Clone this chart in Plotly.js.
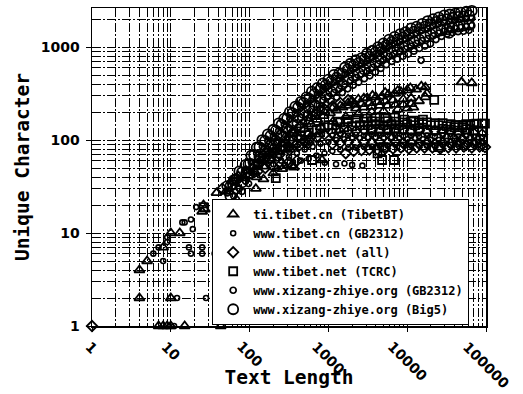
<!DOCTYPE html>
<html><head><meta charset="utf-8">
<script src="https://cdn.plot.ly/plotly-3.0.1.min.js"></script>
<style>html,body{margin:0;padding:0;background:#fff;}</style>
</head><body><div id="chart" style="width:523px;height:394px;"></div>
<script>
// ---- tick labels ----
const xTickVals = [1, 10, 100, 1000, 10000, 100000];
const xTickText = ['1', '10', '100', '1000', '10000', '100000'];
const yTickVals = [1, 10, 100, 1000];
const yTickText = ['1', '10', '100', '1000'];

// ---- ti.tibet.cn (TibetBT) : triangles ----
const tibetbtLowX = [4,4,5,8,10,13,10,43,7,8,9,10,15,43,26,27,25,38,50,55,60,85,123,120,365,830];
const tibetbtLowY = [2,4,5,7,10,10,2,2,1,1,1,1,1,1,20,18,17,27,28,28,36,39,40,30,51,61];
const tibetbtDiagX = [72,90,110,140,170,210,260,320,400];
const tibetbtDiagY = [41,47,52,60,70,80,92,104,118];
const tibetbtMergeX = [115,150,190,240,300,380,480,600,760,170,220,280,350,440,560,700,150,200,260,340];
const tibetbtMergeY = [46,52,63,74,79,89,100,110,115,79,93,107,126,145,158,178,38,44,49,53];
const tibetbtUpperX = [1995,2399,2818,3100,4000,4786,5754,6918,8318,10000,13000,17000,17000,49000,66000];
const tibetbtUpperY = [263,275,282,283,290,295,309,316,331,345,350,370,290,420,410];
const tibetbtMidX = [501,603,724,871,1047,1259,1514,1820,2188,2630,3311,4169,5248,6607,8913,11220];
const tibetbtMidY = [132,148,166,182,195,209,224,234,240,245,251,257,263,269,275,282];
const tibetbtLowBandX = [417,550,794,1148,1660,2399,3548,5012,7586,10000,12000];
const tibetbtLowBandY = [105,117,138,158,178,191,200,204,214,219,224];
const tibetbtFillX = [891,1122,1413,1778,2239,2818,3548,4467,5623,7079,8913,11220,14125,17783,3631,5248,7586,10965,15136];
const tibetbtFillY = [200,219,234,251,219,224,229,234,234,240,240,245,263,316,302,324,339,363,380];

// ---- www.tibet.cn (GB2312) : small circles ----
const tibetcnLowX = [6,7,8,9,9,12,28,14,15,19,18,17,25,18,25,36,21,38,11];
const tibetcnLowY = [6,7,5,8,9,2,2,13,13,11,14,7,7,6,6,6,19,21,1];
const tibetcnBandX1 = [200,251,316,398,501,631,794,1000,1259,1585,1995,2512,3162,3981,5012,6310,7943,10000,12589,15849,19953,25119,31623,39811,50119,63096,79433];
const tibetcnBandY1 = [55,60,66,72,79,85,91,95,100,102,105,105,107,107,105,107,105,102,105,102,100,100,98,98,95,95,95];
const tibetcnBandX2 = [224,282,355,447,562,708,891,1122,1413,1778,2239,2818,3548,4467,5623,7079,8913,11220,14125,17783,22387,28184,35481,44668,56234,70795,89125];
const tibetcnBandY2 = [50,54,58,60,63,68,72,76,79,81,83,85,85,87,87,89,89,87,89,87,87,89,89,91,91,93,93];
const tibetcnBandX3 = [1122,1413,1778,2239,2818,3548,4467,5623,7079,8913,11220,14125,17783,22387,28184,35481,44668,56234,70795,89125];
const tibetcnBandY3 = [112,115,112,114,112,115,112,114,112,110,112,110,112,110,112,110,109,110,107,105];
const tibetcnBottomX = [900,1250,1600,2000,2700];
const tibetcnBottomY = [57,55,56,54,53];

// ---- www.tibet.net (all) : diamonds ----
const tibetnetDiagX = [1,45,65,95,130,180,240,320,420,560,158,200,251,316,398,501,708,891,1122,1413,1778];
const tibetnetDiagY = [1,30,38,45,55,62,70,78,86,93,63,72,79,85,91,95,191,214,229,251,269];
const tibetnetFillX = [126,158,200,251,316,398];
const tibetnetFillY = [46,50,52,55,58,60];
const tibetnetBandX1 = [1660,2089,2630,3311,4169,5248,6607,8318,10471,13183,16596,20893,26303,33113,41687,52481,66069,83176,97000];
const tibetnetBandY1 = [72,76,78,79,79,81,81,83,81,83,83,83,81,83,83,85,83,85,84];
const tibetnetBandX2 = [562,708,891,1122,1413,1778,2239,2818,3548,4467,5623,7079,8913,11220,14125,17783,22387,28184,35481,44668,56234,70795,89125];
const tibetnetBandY2 = [100,107,115,120,123,126,126,129,129,126,129,126,129,126,126,123,126,123,123,120,120,117,115];
const tibetnetBandX3 = [1122,1413,1778,2239,2818,3548,4467,5623,7079,8913,11220,14125,17783,22387,28184,35481,44668,56234,70795,89125];
const tibetnetBandY3 = [91,93,95,93,95,93,95,93,95,93,93,91,93,91,93,91,91,89,91,89];

// ---- www.tibet.net (TCRC) : squares ----
const tcrcBandX1 = [1259,1585,1995,2512,3162,3981,5012,6310,7943,10000,12589,15849,19953,25119,31623,39811,50119,63096,75000,97000];
const tcrcBandY1 = [132,138,141,145,145,148,145,148,145,148,145,148,145,145,141,138,138,145,150,150];
const tcrcBandX2 = [794,1000,1318,1738,2291,3020,3981,5248,6918,9120,12023,15849];
const tcrcBandY2 = [132,145,158,166,170,170,174,170,174,166,162,166];
const tcrcBandX3 = [3548,4467,5623,7079,8913,11220,14125,17783,22387,28184,35481,44668,56234,70795,89125];
const tcrcBandY3 = [130,133,129,134,131,128,133,130,127,132,129,126,131,128,125];
const tcrcBandX4 = [1413,1778,2239,2818,3548,4467,5623,7079,8913,11220,14125,17783,22387,28184,35481,44668,56234,70795,89125];
const tcrcBandY4 = [155,158,155,158,160,158,160,158,155,158,155,155,152,152,148,145,148,148,150];
const tcrcMergeX = [178,224,282,355,447,562,708,891,1122];
const tcrcMergeY = [63,72,85,98,110,120,129,138,145];
const tcrcOtherX = [26,60,215,620,4200,4800,6800,5000,25000,22000,41000,52000];
const tcrcOtherY = [19,33,39,61,72,61,61,84,84,270,145,145];

// ---- www.xizang-zhiye.org (GB2312) : medium circles ----
const xizangGbX1 = [52,63,74,89,105,123,145,170,200,234,275,324,380,447,525,617,724,851,1000,1175,1380,1622,1905,2239,2630,3090,3631,4266,5012,5888,6918,8128,9550,11220,13183,15488,18197,21380,25119,29512,34674,40738,47863,56234,66069];
const xizangGbY1 = [27,32,38,47,58,72,85,98,110,126,148,170,195,224,245,275,309,347,380,417,457,513,562,603,661,708,776,851,933,1023,1096,1148,1230,1318,1413,1514,1585,1698,1778,1841,1905,1950,1995,2018,2042];
const xizangGbX2 = [57,68,80,97,114,133,157,184,216,254,299,351,412,484,569,668,785,923,1084,1274,1496,1758,2065,2427,2851,3350,3936,4624,5433,6383,7499,8810,10351,12162,14289,16788,19724,23174,27227,31989,37584,44157,51880,60954,15000];
const xizangGbY2 = [19,23,28,34,43,52,60,69,78,91,105,120,138,155,174,195,219,240,263,288,324,355,389,417,457,490,537,589,646,700,741,794,841,902,966,1023,1084,1202,1300,1380,1429,1462,1479,1514,720];
const xizangGbX3 = [52,63,74,89,105,123,145,170,200,234,275,324,380,447,525,617,724,851,1000,1175,1380,1622,1905,2239,2630,3090,3631,4266,5012,5888,6918,8128,9550,11220,13183,15488,18197,21380,25119,29512,34674,40738,47863,56234,66069];
const xizangGbY3 = [21,25,30,36,45,56,66,76,85,98,115,132,151,174,191,214,240,269,295,324,355,398,437,468,513,550,603,661,724,794,851,891,955,1023,1096,1175,1230,1318,1413,1479,1549,1585,1622,1660,1698];

// ---- www.xizang-zhiye.org (Big5) : large circles ----
const xizangBig5X1 = [52,63,74,89,105,123,145,170,200,234,275,324,380,447,525,617,724,851,1000,1175,1380,1622,1905,2239,2630,3090,3631,4266,5012,5888,6918,8128,9550,11220,13183,15488,18197,21380,25119,29512,34674,40738,47863,56234,66069];
const xizangBig5Y1 = [32,37,46,54,68,83,100,115,129,151,170,200,229,257,288,331,363,407,447,501,525,603,661,724,759,851,912,1000,1096,1202,1288,1380,1445,1585,1660,1778,1905,1995,2089,2188,2239,2291,2344,2399,2455];
const xizangBig5X2 = [57,68,80,97,114,133,157,184,216,254,299,351,412,484,569,668,785,923,1084,1274,1496,1758,2065,2427,2851,3350,3936,4624,5433,6383,7499,8810,10351,12162,14289,16788,19724,23174,27227,31989,37584,44157,51880,60954,34000];
const xizangBig5Y2 = [25,30,35,43,54,66,76,87,98,112,132,151,174,195,219,240,275,302,331,363,398,447,490,525,575,617,676,741,813,871,933,1000,1047,1148,1202,1288,1380,1445,1514,1549,1622,1660,1698,1738,1420];
const xizangBig5X3 = [57,68,80,97,114,133,157,184,216,254,299,351,412,484,569,668,785,923,1084,1274,1496,1758,2065,2427,2851,3350,3936,4624,5433,6383,7499,8810,10351,12162,14289,16788,19724,23174,27227,31989,37584,44157,51880,60954];
const xizangBig5Y3 = [32,38,45,55,69,84,98,111,126,146,170,195,224,251,279,313,351,389,427,468,519,575,624,676,733,794,871,955,1047,1135,1202,1274,1365,1462,1567,1660,1758,1862,1950,1995,2065,2113,2138,2188];

const seriesNames = ['ti.tibet.cn (TibetBT)','www.tibet.cn (GB2312)','www.tibet.net (all)','www.tibet.net (TCRC)','www.xizang-zhiye.org (GB2312)','www.xizang-zhiye.org (Big5)'];

function mk(name, x, y, symbol, size, lw) {
  return {type:'scatter', mode:'markers', name:name, x:x, y:y, cliponaxis:false,
    marker:{symbol:symbol, size:size, color:'black', line:{color:'black', width:lw}}};
}

const traces = [
  mk(seriesNames[0], tibetbtLowX.concat(tibetbtDiagX, tibetbtMergeX, tibetbtUpperX, tibetbtMidX, tibetbtLowBandX, tibetbtFillX),
     tibetbtLowY.concat(tibetbtDiagY, tibetbtMergeY, tibetbtUpperY, tibetbtMidY, tibetbtLowBandY, tibetbtFillY), 'triangle-up-open', 9, 1.8),
  mk(seriesNames[1], tibetcnLowX.concat(tibetcnBandX1, tibetcnBandX2, tibetcnBandX3, tibetcnBottomX),
     tibetcnLowY.concat(tibetcnBandY1, tibetcnBandY2, tibetcnBandY3, tibetcnBottomY), 'circle-open', 5, 1.6),
  mk(seriesNames[2], tibetnetDiagX.concat(tibetnetFillX, tibetnetBandX1, tibetnetBandX2, tibetnetBandX3),
     tibetnetDiagY.concat(tibetnetFillY, tibetnetBandY1, tibetnetBandY2, tibetnetBandY3), 'diamond-open', 8, 1.8),
  mk(seriesNames[3], tcrcBandX1.concat(tcrcBandX2, tcrcBandX3, tcrcBandX4, tcrcMergeX, tcrcOtherX),
     tcrcBandY1.concat(tcrcBandY2, tcrcBandY3, tcrcBandY4, tcrcMergeY, tcrcOtherY), 'square-open', 8, 1.8),
  mk(seriesNames[4], xizangGbX1.concat(xizangGbX2, xizangGbX3), xizangGbY1.concat(xizangGbY2, xizangGbY3), 'circle-open', 6, 1.7),
  mk(seriesNames[5], xizangBig5X1.concat(xizangBig5X2, xizangBig5X3), xizangBig5Y1.concat(xizangBig5Y2, xizangBig5Y3), 'circle-open', 10, 1.8)
];

const tickFont = {family:'DejaVu Sans', size:14, weight:'bold', color:'black'};
const titleFont = {family:'DejaVu Sans Mono', size:19.5, weight:'bold', color:'black'};
const gridStyle = {gridcolor:'#000000', gridwidth:1, griddash:'9px,2px,2px,2px'};

const annotations = xTickVals.map((v, i) => ({
  x: Math.log10(v), y: -0.03, xref:'x', yref:'paper', text: xTickText[i],
  showarrow:false, textangle:45, xanchor:'center', yanchor:'top', font: tickFont
}));

const layout = {
  width:523, height:394,
  margin:{l:92, r:37, t:8, b:68},
  paper_bgcolor:'white', plot_bgcolor:'white',
  showlegend:true,
  legend:{x:0.305, y:0.004, xanchor:'left', yanchor:'bottom', bgcolor:'white',
    bordercolor:'black', borderwidth:1, font:{family:'DejaVu Sans Mono', size:12, weight:'bold', color:'black'}},
  xaxis:Object.assign({type:'log', range:[0,5], showline:true, mirror:true, linecolor:'black', linewidth:1.5,
    ticks:'outside', ticklen:4, tickcolor:'black', tickvals:xTickVals, showticklabels:false, zeroline:false,
    showgrid:true,
    minor:Object.assign({showgrid:true, dtick:'D1', ticks:''}, gridStyle),
    title:{text:'Text Length', font:titleFont, standoff:40}}, gridStyle),
  yaxis:Object.assign({type:'log', range:[0,3.42], showline:true, mirror:true, linecolor:'black', linewidth:1.5,
    ticks:'outside', ticklen:5, tickcolor:'black', tickvals:yTickVals, ticktext:yTickText, tickfont:tickFont,
    ticklabelstandoff:3, zeroline:false, showgrid:true,
    minor:Object.assign({showgrid:true, dtick:'D1', ticks:''}, gridStyle),
    title:{text:'Unique Character', font:titleFont, standoff:6}}, gridStyle),
  annotations:annotations
};

Plotly.newPlot('chart', traces, layout, {displayModeBar:false, staticPlot:true});
</script></body></html>
